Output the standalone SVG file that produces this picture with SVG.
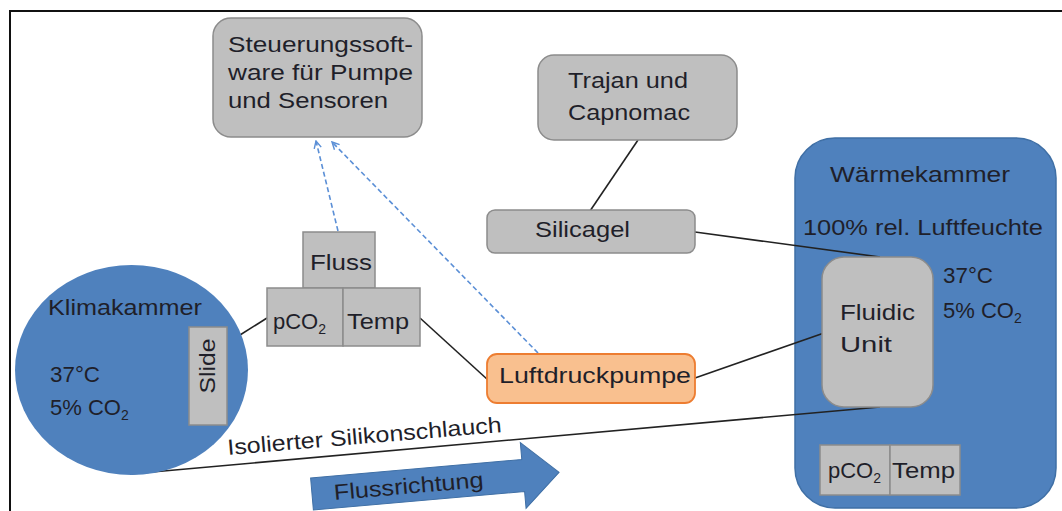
<svg xmlns="http://www.w3.org/2000/svg" width="1062" height="511" viewBox="0 0 1062 511">
<defs>
<style>
text{font-family:"Liberation Sans",Arial,sans-serif;fill:#1f1f2a;font-size:22px}
.g{fill:#bfbfbf;stroke:#8c8c8c;stroke-width:1.5}
.blue{fill:#4f81bd}
.ln{stroke:#222;stroke-width:1.6;fill:none}
.dash{stroke:#5b8fd6;stroke-width:1.6;stroke-dasharray:5 3;fill:none}
.sub{font-size:14px}
</style>
<marker id="ah" viewBox="0 0 10 10" refX="9" refY="5" markerWidth="9" markerHeight="9" orient="auto" markerUnits="userSpaceOnUse">
<path d="M1,1 L9,5 L1,9" fill="none" stroke="#5b8fd6" stroke-width="1.6"/>
</marker>
</defs>
<rect width="1062" height="511" fill="#fff"/>
<path d="M10,511 V11 H1062" fill="none" stroke="#111" stroke-width="2"/>

<g id="waermekammer">
<rect x="795" y="138" width="261" height="370" rx="40" class="blue" stroke="#3f6fa5" stroke-width="1.5"/>
<text x="830" y="182" textLength="180" lengthAdjust="spacingAndGlyphs">Wärmekammer</text>
<text x="803" y="235" textLength="240" lengthAdjust="spacingAndGlyphs">100% rel. Luftfeuchte</text>
<text x="943" y="283" textLength="50" lengthAdjust="spacingAndGlyphs">37°C</text>
<text x="943" y="318">5% CO<tspan class="sub" dy="5">2</tspan></text>
</g>

<g id="connectors">
<line class="ln" x1="638" y1="140" x2="590" y2="211"/>
<line class="ln" x1="695" y1="232" x2="880" y2="257"/>
<line class="ln" x1="695" y1="378" x2="824" y2="333"/>
<line class="ln" x1="130" y1="474" x2="880" y2="407"/>
<line class="ln" x1="240" y1="335" x2="267" y2="318"/>
<line class="ln" x1="420" y1="318" x2="488" y2="380"/>
<line class="dash" x1="338" y1="231" x2="316" y2="141" marker-end="url(#ah)"/>
<line class="dash" x1="538" y1="353" x2="332" y2="142" marker-end="url(#ah)"/>
</g>

<g id="steuerung">
<rect x="213" y="18" width="209" height="119" rx="18" class="g"/>
<text x="228" y="52" font-size="24" textLength="185" lengthAdjust="spacingAndGlyphs">Steuerungssoft-</text>
<text x="228" y="80" font-size="24" textLength="185" lengthAdjust="spacingAndGlyphs">ware für Pumpe</text>
<text x="228" y="108" font-size="24" textLength="160" lengthAdjust="spacingAndGlyphs">und Sensoren</text>
</g>

<g id="trajan">
<rect x="538" y="55" width="199" height="85" rx="16" class="g"/>
<text x="568" y="88" textLength="120" lengthAdjust="spacingAndGlyphs">Trajan und</text>
<text x="568" y="120" textLength="122" lengthAdjust="spacingAndGlyphs">Capnomac</text>
</g>

<g id="silicagel">
<rect x="487" y="210" width="208" height="43" rx="8" class="g"/>
<text x="535" y="237" textLength="95" lengthAdjust="spacingAndGlyphs">Silicagel</text>
</g>

<g id="luftdruckpumpe">
<rect x="487" y="354" width="208" height="49" rx="10" fill="#f9c08f" stroke="#ed7d31" stroke-width="1.8"/>
<text x="499" y="383" font-size="24" textLength="192" lengthAdjust="spacingAndGlyphs">Luftdruckpumpe</text>
</g>

<g id="sensoren-links">
<rect x="303" y="232" width="72" height="56" class="g"/>
<text x="310" y="270" textLength="62" lengthAdjust="spacingAndGlyphs">Fluss</text>
<rect x="267" y="288" width="76" height="58" class="g"/>
<text x="273" y="329">pCO<tspan class="sub" dy="5">2</tspan></text>
<rect x="343" y="288" width="77" height="58" class="g"/>
<text x="347" y="329" textLength="62" lengthAdjust="spacingAndGlyphs">Temp</text>
</g>

<g id="klimakammer">
<ellipse cx="131.5" cy="370" rx="116.5" ry="105" class="blue"/>
<text x="48" y="315" textLength="154" lengthAdjust="spacingAndGlyphs">Klimakammer</text>
<text x="50" y="382" textLength="50" lengthAdjust="spacingAndGlyphs">37°C</text>
<text x="50" y="415">5% CO<tspan class="sub" dy="5">2</tspan></text>
</g>

<g id="slide">
<rect x="189" y="327" width="38" height="98" class="g"/>
<text transform="translate(215,366) rotate(-90)" text-anchor="middle" textLength="55" lengthAdjust="spacingAndGlyphs">Slide</text>
</g>

<g id="fluidic-unit">
<rect x="822" y="257" width="111" height="150" rx="22" class="g"/>
<text x="840" y="320" textLength="75" lengthAdjust="spacingAndGlyphs">Fluidic</text>
<text x="840" y="352" textLength="52" lengthAdjust="spacingAndGlyphs">Unit</text>
</g>

<g id="sensoren-rechts">
<rect x="820" y="445" width="70" height="50" class="g"/>
<text x="828" y="478">pCO<tspan class="sub" dy="5">2</tspan></text>
<rect x="890" y="445" width="70" height="50" class="g"/>
<text x="892" y="478" textLength="63" lengthAdjust="spacingAndGlyphs">Temp</text>
</g>

<g id="schlauch-label">
<text transform="translate(228,455) rotate(-4.8)" font-size="21" textLength="275" lengthAdjust="spacingAndGlyphs">Isolierter Silikonschlauch</text>
</g>

<g id="flussrichtung" transform="translate(312,494) rotate(-5)">
<path d="M0,-16 H212 V-33 L248,0 L212,33 V16 H0 Z" fill="#4f81bd" stroke="#3f6fa5" stroke-width="1"/>
<text x="22" y="8" font-size="21" textLength="150" lengthAdjust="spacingAndGlyphs">Flussrichtung</text>
</g>
</svg>
